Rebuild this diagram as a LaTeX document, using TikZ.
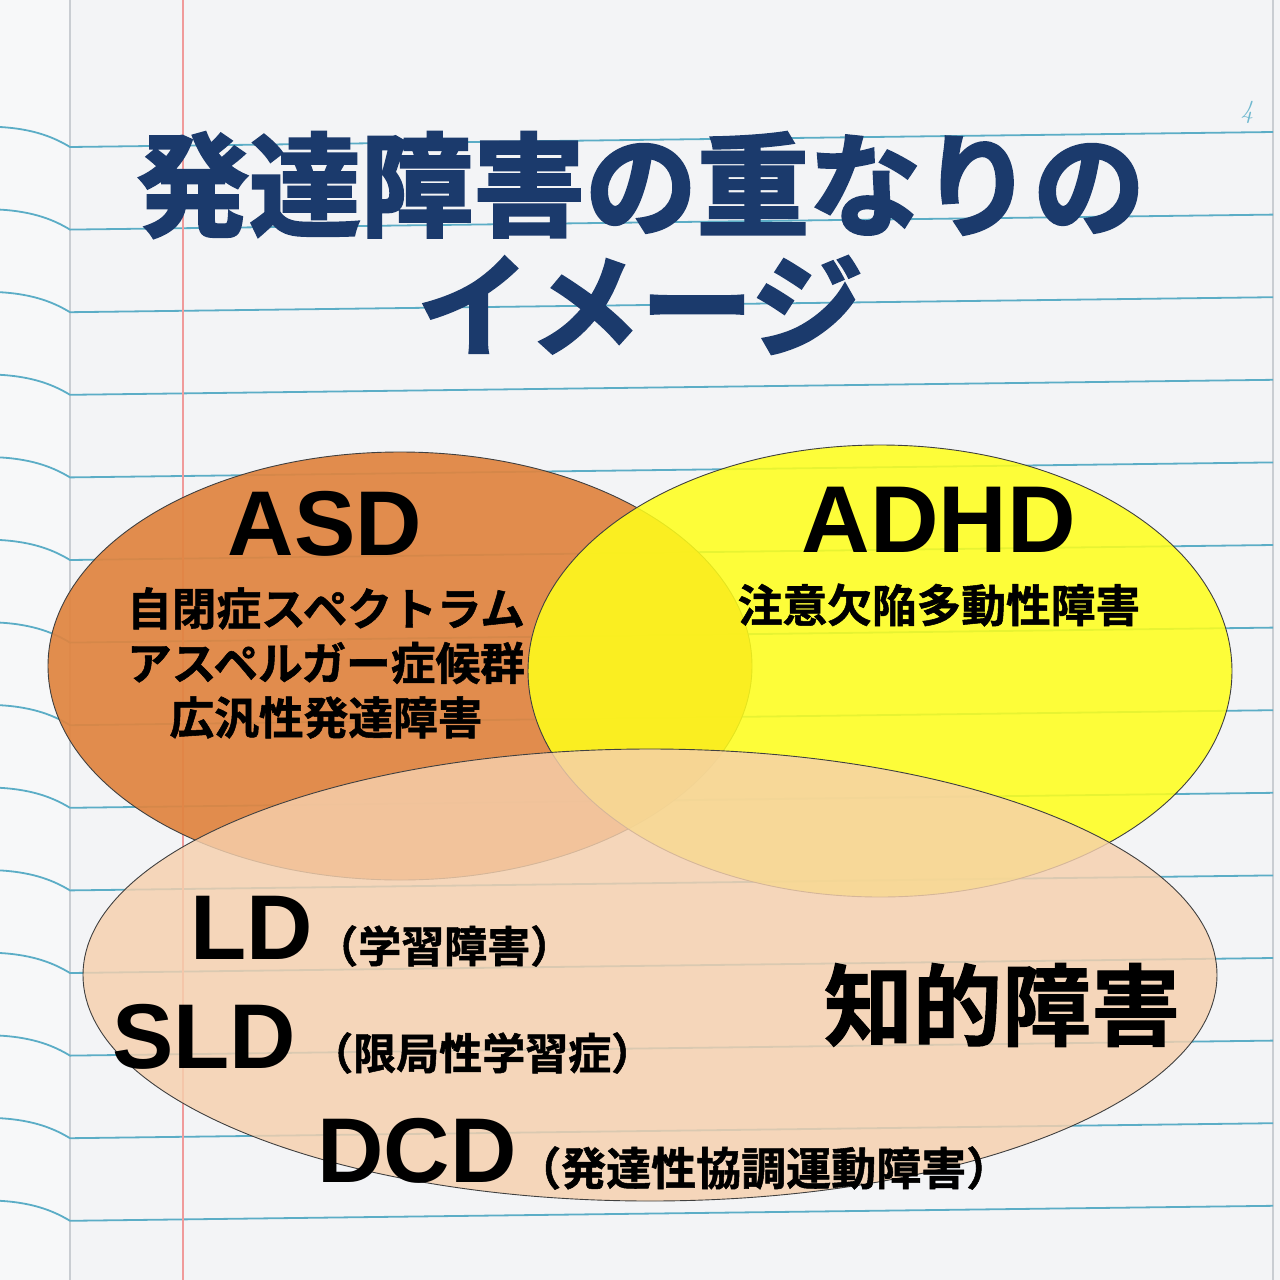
\documentclass[tikz,border=0pt]{standalone}
\usepackage{fontspec}
\newfontfamily\jp{Noto Sans CJK JP Bold}[FakeBold=1.2]
\newfontfamily\jpt{Noto Sans CJK JP Bold}[FakeBold=2.6]
\newfontfamily\lat{Liberation Sans Bold}
\definecolor{paper}{HTML}{F3F4F6}
\definecolor{leftpage}{HTML}{F7F8F9}
\definecolor{foldc}{HTML}{C9CDD2}
\definecolor{rulec}{HTML}{5BADC6}
\definecolor{marginc}{HTML}{F09A9A}
\definecolor{navy}{HTML}{1B3A6C}
\definecolor{asdc}{HTML}{E0843F}
\definecolor{adhdc}{HTML}{FFFF1A}
\definecolor{lowc}{HTML}{F6D0AD}
\definecolor{pagenum}{HTML}{6FB8CF}
\tikzset{
  rule/.style={draw=rulec,line width=1.8pt},
  blob/.style={draw=black!75,line width=0.9pt},
  asdblob/.style={blob,fill=asdc,fill opacity=0.92},
  adhdblob/.style={blob,fill=adhdc,fill opacity=0.86},
  lowblob/.style={blob,fill=lowc,fill opacity=0.82},
  title/.style={inner sep=0pt,text=navy,font=\jpt\fontsize{112}{120}\selectfont},
  big/.style={inner sep=0pt,text=black,font=\lat\fontsize{92}{100}\selectfont},
  sub/.style={inner sep=0pt,text=black,font=\jp\fontsize{44.7}{54.5}\selectfont,align=center},
  paren/.style={inner sep=0pt,text=black,anchor=west},
}
\begin{document}
\begin{tikzpicture}[x=1pt,y=-1pt]
\useasboundingbox (0,0) rectangle (1280,1280);
\fill[paper] (0,0) rectangle (1280,1280);
\fill[leftpage] (0,0) rectangle (70,1280);
\draw[foldc,line width=1.2pt] (70,0) -- (70,1280);
\draw[foldc,line width=1.5pt] (1273,0) -- (1273,1280);
\foreach \k in {0,...,13}{
  \pgfmathsetmacro\yy{140+82.6*\k}
  \draw[rule] (0,{\yy-13}) .. controls (35,{\yy-11}) and (55,{\yy-2}) .. (70,{\yy+7}) -- (1273,{\yy-8});
}
\draw[marginc,line width=1.3pt] (183,0) -- (183,1280);
\node[inner sep=0pt,text=pagenum,font=\itshape\fontsize{26}{26}\selectfont] (pg) at (1247,112) {4};
% title
\node[title] (t1) at (641,185) {発達障害の重なりの};
\node[title] (t2) at (640,305) {イメージ};
% ellipses
\path[asdblob] (400,666) ellipse [x radius=352pt, y radius=214pt];
\path[adhdblob] (880,671) ellipse [x radius=352pt, y radius=226pt];
\path[lowblob] (650,975) ellipse [x radius=567pt, y radius=226pt];
% ASD
\node[big] (asd) at (325,524) {ASD};
\node[sub] (asdsub) at (326,663) {自閉症スペクトラム\\アスペルガー症候群\\広汎性発達障害};
% ADHD
\node[big,font=\lat\fontsize{95}{100}\selectfont] (adhd) at (939,520) {ADHD};
\node[sub] (adhdsub) at (939,605) {注意欠陥多動性障害};
% lower
\node[big,anchor=west] (ld) at (190,928) {LD};
\node[paren,font=\jp\fontsize{43}{43}\selectfont] (ldsub) at (315,946) {（学習障害）};
\node[big,anchor=west] (sld) at (112,1037) {SLD};
\node[paren,font=\jp\fontsize{43}{43}\selectfont] (sldsub) at (310,1053) {（限局性学習症）};
\node[big,anchor=west] (dcd) at (317,1151) {DCD};
\node[paren,font=\jp\fontsize{45}{45}\selectfont] (dcdsub) at (516,1168) {（発達性協調運動障害）};
\node[inner sep=0pt,font=\jp\fontsize{89}{100}\selectfont] (id) at (1002,1005) {知的障害};
\end{tikzpicture}
\end{document}
